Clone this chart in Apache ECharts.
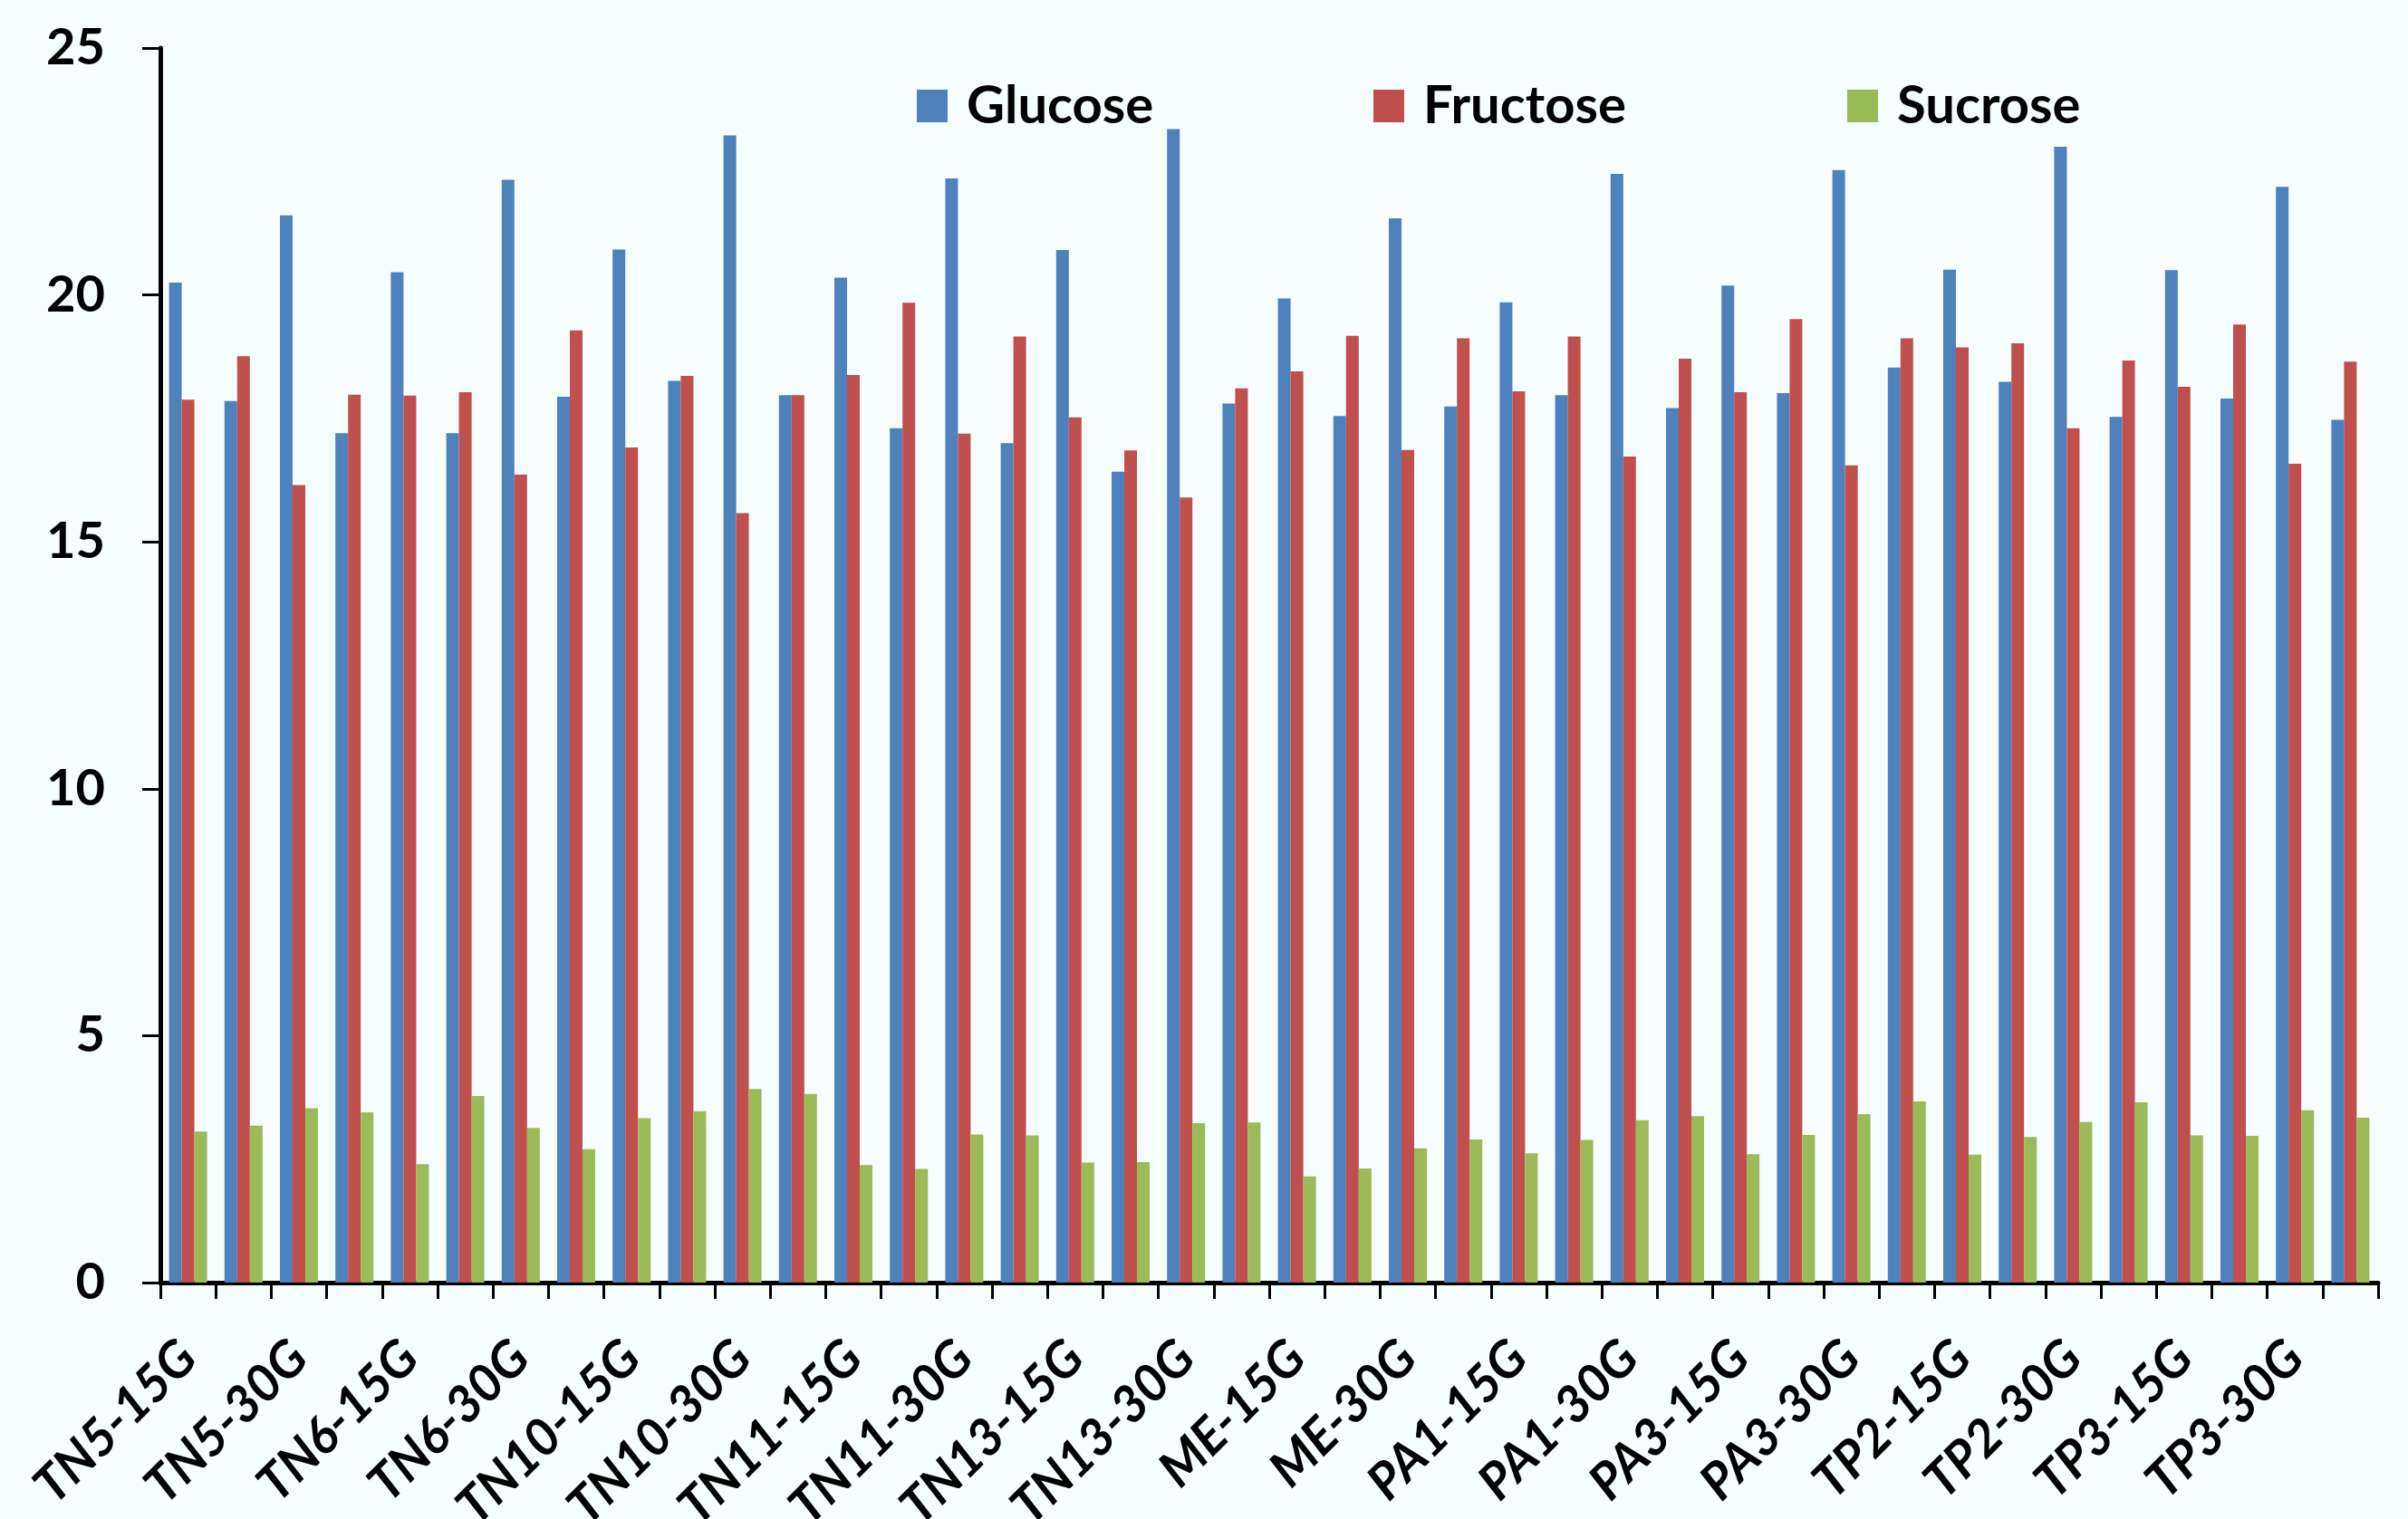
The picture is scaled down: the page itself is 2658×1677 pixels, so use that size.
<!DOCTYPE html>
<html>
<head>
<meta charset="utf-8">
<script src="https://cdn.jsdelivr.net/npm/echarts@6/dist/echarts.min.js"></script>
<style>
  html, body { margin: 0; padding: 0; background: #f6fdfe; }
  #chart { width: 2658px; height: 1677px; }
</style>
</head>
<body>
<div id="chart"></div>
<script>
// Sample labels shown on the x axis (one per pair of bar groups)
const tickLabels = ["TN5-15G", "TN5-30G", "TN6-15G", "TN6-30G", "TN10-15G", "TN10-30G",
  "TN11-15G", "TN11-30G", "TN13-15G", "TN13-30G", "ME-15G", "ME-30G", "PA1-15G", "PA1-30G",
  "PA3-15G", "PA3-30G", "TP2-15G", "TP2-30G", "TP3-15G", "TP3-30G"];

// 40 bar groups: two per labelled sample
const categories = tickLabels.flatMap(n => [n, n]);

const glucose = [20.25, 17.85, 21.61, 17.20, 20.46, 17.20, 22.33, 17.94, 20.92, 18.26,
  23.23, 17.97, 20.35, 17.30, 22.36, 17.00, 20.91, 16.42, 23.36, 17.80,
  19.93, 17.55, 21.55, 17.74, 19.85, 17.97, 22.45, 17.71, 20.19, 18.01,
  22.53, 18.53, 20.51, 18.24, 23.00, 17.53, 20.50, 17.90, 22.19, 17.47];

const fructose = [17.88, 18.76, 16.15, 17.98, 17.96, 18.03, 16.36, 19.28, 16.91, 18.36,
  15.58, 17.97, 18.38, 19.84, 17.19, 19.16, 17.52, 16.85, 15.90, 18.11,
  18.45, 19.17, 16.86, 19.12, 18.05, 19.16, 16.73, 18.71, 18.03, 19.51,
  16.55, 19.12, 18.94, 19.02, 17.30, 18.67, 18.14, 19.40, 16.58, 18.65];

const sucrose = [3.06, 3.18, 3.53, 3.45, 2.40, 3.78, 3.13, 2.70, 3.33, 3.47,
  3.92, 3.82, 2.38, 2.30, 3.00, 2.98, 2.43, 2.44, 3.23, 3.24,
  2.15, 2.31, 2.72, 2.90, 2.62, 2.89, 3.29, 3.37, 2.60, 2.99,
  3.41, 3.67, 2.59, 2.95, 3.25, 3.65, 2.98, 2.97, 3.49, 3.34];

const seriesNames = ["Glucose", "Fructose", "Sucrose"];
const colors = ["#4f81bd", "#c0504d", "#9bbb59"];
const legendLeft = [1012, 1516, 2039];

const FONT = "Lato, 'Open Sans', sans-serif";

const chart = echarts.init(document.getElementById('chart'));

const legends = seriesNames.map((n, i) => ({
  data: [n],
  left: legendLeft[i],
  top: 88,
  padding: 0,
  itemWidth: 34,
  itemHeight: 36,
  icon: 'rect',
  textStyle: {
    fontFamily: FONT, fontWeight: 'bold', fontSize: 58, color: '#000',
    lineHeight: 36, padding: [0, 0, 0, 16]
  }
}));

const data = [glucose, fructose, sucrose];

chart.setOption({
  backgroundColor: '#f6fdfe',
  animation: false,
  color: colors,
  legend: legends,
  grid: { left: 177, right: 33, top: 53, bottom: 261, containLabel: false, outerBoundsMode: 'none' },
  xAxis: {
    type: 'category',
    data: categories,
    boundaryGap: true,
    axisLine: { lineStyle: { color: '#000', width: 5 } },
    axisTick: { show: true, interval: 0, alignWithLabel: false, length: 18, lineStyle: { color: '#000', width: 3 } },
    axisLabel: {
      interval: 1,
      rotate: 45,
      margin: 74,
      fontFamily: FONT, fontWeight: 'bold', fontStyle: 'italic', fontSize: 56, color: '#000'
    },
    splitLine: { show: false }
  },
  yAxis: {
    type: 'value',
    min: 0, max: 25, interval: 5,
    axisLine: { show: true, lineStyle: { color: '#000', width: 5 } },
    axisTick: { show: true, length: 20, lineStyle: { color: '#000', width: 3 } },
    axisLabel: { margin: 61, fontFamily: FONT, fontWeight: 'bold', fontSize: 56, color: '#000' },
    splitLine: { show: false }
  },
  series: seriesNames.map((n, i) => ({
    name: n,
    type: 'bar',
    data: data[i],
    barWidth: 14,
    barGap: '0%',
    itemStyle: { color: colors[i] }
  }))
});
</script>
</body>
</html>
